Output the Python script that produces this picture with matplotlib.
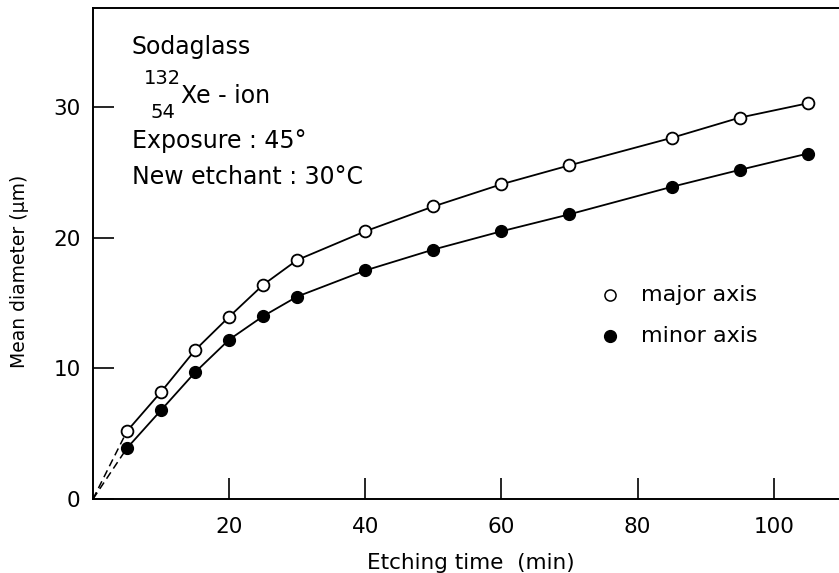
import matplotlib.pyplot as plt

# Etching time (min) and mean track diameters (um)
etch_time = [5, 10, 15, 20, 25, 30, 40, 50, 60, 70, 85, 95, 105]
major_axis = [5.2, 8.2, 11.4, 13.95, 16.4, 18.3, 20.5, 22.4, 24.1, 25.55, 27.65, 29.2, 30.3]
minor_axis = [3.9, 6.8, 9.7, 12.2, 14.0, 15.5, 17.5, 19.1, 20.5, 21.8, 23.9, 25.2, 26.45]

x_ticks = [20, 40, 60, 80, 100]
y_ticks = [0, 10, 20, 30]

plt.rcParams['font.family'] = 'DejaVu Sans'

fig = plt.figure(figsize=(8.39, 5.73), dpi=100)
ax = fig.add_axes([0.1108, 0.1291, 0.8892, 0.857])

# dashed extrapolation back to the origin
for series in (major_axis, minor_axis):
    ax.plot([0, etch_time[0]], [0, series[0]], color='black', lw=1.1,
            ls=(0, (5, 3)), zorder=1)

ax.plot(etch_time, major_axis, color='black', lw=1.3, marker='o', ms=8.5,
        mfc='white', mec='black', mew=1.3, zorder=2)
ax.plot(etch_time, minor_axis, color='black', lw=1.3, marker='o', ms=8.5,
        mfc='black', mec='black', zorder=2)

ax.set_xlim(0, 109.6)
ax.set_ylim(0, 37.6)
ax.set_xticks(x_ticks)
ax.set_yticks(y_ticks)
ax.tick_params(direction='in', length=15, width=1.2, labelsize=15.5)
ax.tick_params(axis='y', pad=9)
ax.tick_params(axis='x', pad=13)
ax.spines['right'].set_visible(False)
for s in ('left', 'bottom', 'top'):
    ax.spines[s].set_linewidth(1.4)

ax.set_xlabel('Etching time  (min)', fontsize=15.5)
ax.set_ylabel('Mean diameter (\u00b5m)', fontsize=13.5)
ax.xaxis.set_label_coords(0.507, -0.13)
ax.yaxis.set_label_coords(-0.098, 0.464)
ax.xaxis.label.set_va('center')
ax.yaxis.label.set_va('center')

# experiment conditions
ax.text(5.7, 34.1, 'Sodaglass', fontsize=17, va='baseline')
ax.text(7.5, 31.75, '132', fontsize=14, va='baseline')
ax.text(8.5, 29.2, '54', fontsize=14, va='baseline')
ax.text(12.9, 30.3, 'Xe - ion', fontsize=17, va='baseline')
ax.text(5.7, 26.85, 'Exposure : 45\u00b0', fontsize=17, va='baseline')
ax.text(5.7, 24.15, 'New etchant : 30\u00b0C', fontsize=17, va='baseline')

# legend drawn by hand
ax.plot([76.0], [15.6], marker='o', ms=8, mfc='white', mec='black', mew=1.1)
ax.plot([76.0], [12.5], marker='o', ms=8.5, mfc='black', mec='black')
ax.text(80.5, 15.6, 'major axis', fontsize=16, va='center')
ax.text(80.5, 12.5, 'minor axis', fontsize=16, va='center')

fig.savefig('out.png', dpi=100)
